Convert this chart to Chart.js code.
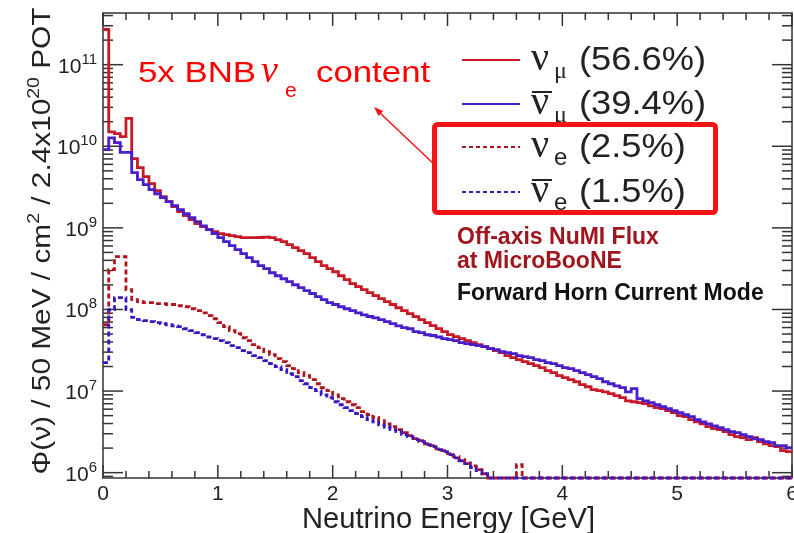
<!DOCTYPE html>
<html lang="en">
<head>
<meta charset="UTF-8">
<title>Off-axis NuMI Flux at MicroBooNE</title>
<script src="https://cdn.jsdelivr.net/npm/chart.js@4.4.0/dist/chart.umd.min.js"></script>
<style>
  body { margin: 0; background: #fff; }
  canvas { display: block; background: #fff; }
</style>
</head>
<body>
<canvas id="flux" width="794" height="533"></canvas>
<script>
// 50 MeV bins from 0 to 6 GeV (120 bins), flux per bin
const binWidth = 0.05;

const numuFlux = [
  2.7e11, 1.5e10, 1.43e10, 1.31e10, 2.2e10, 7.05e9, 5.47e9, 4.24e9, 3.48e9, 2.86e9,
  2.42e9, 2.10e9, 1.82e9, 1.58e9, 1.41e9, 1.26e9, 1.125e9, 1.035e9, 9.51e8, 8.99e8,
  8.49e8, 8.25e8, 8.03e8, 7.80e8, 7.59e8, 7.59e8, 7.60e8, 7.62e8, 7.70e8, 7.60e8,
  7.17e8, 6.77e8, 6.22e8, 5.72e8, 5.26e8, 4.84e8, 4.32e8, 3.86e8, 3.45e8, 3.16e8,
  2.90e8, 2.59e8, 2.32e8, 2.07e8, 1.90e8, 1.75e8, 1.61e8, 1.48e8, 1.36e8, 1.25e8,
  1.15e8, 1.05e8, 9.67e7, 8.90e7, 8.17e7, 7.50e7, 6.89e7, 6.33e7, 5.82e7, 5.35e7,
  4.91e7, 4.64e7, 4.39e7, 4.15e7, 3.92e7, 3.71e7, 3.51e7, 3.31e7, 3.13e7, 2.96e7,
  2.72e7, 2.57e7, 2.43e7, 2.30e7, 2.17e7, 2.05e7, 1.94e7, 1.78e7, 1.68e7, 1.55e7,
  1.46e7, 1.38e7, 1.30e7, 1.20e7, 1.13e7, 1.04e7, 1.01e7, 9.8e6, 9.3e6, 8.8e6,
  8.3e6, 7.6e6, 7.4e6, 7.2e6, 7.0e6, 6.6e6, 6.25e6, 6.1e6, 5.75e6, 5.45e6,
  5.0e6, 4.85e6, 4.46e6, 4.2e6, 3.97e6, 3.67e6, 3.47e6, 3.37e6, 3.18e6, 2.92e6,
  2.76e6, 2.68e6, 2.54e6, 2.68e6, 2.40e6, 2.26e6, 2.14e6, 2.08e6, 1.86e6, 1.81e6
];

const numubarFlux = [
  9.1e9, 1.27e10, 1.11e10, 8.4e9, 8.4e9, 4.75e9, 3.90e9, 3.39e9, 2.94e9, 2.62e9,
  2.35e9, 2.10e9, 1.87e9, 1.67e9, 1.49e9, 1.33e9, 1.19e9, 1.06e9, 9.5e8, 8.5e8,
  7.6e8, 6.8e8, 6.05e8, 5.4e8, 4.84e8, 4.32e8, 3.86e8, 3.45e8, 3.16e8, 2.82e8,
  2.59e8, 2.38e8, 2.19e8, 2.01e8, 1.85e8, 1.70e8, 1.57e8, 1.44e8, 1.32e8, 1.21e8,
  1.15e8, 1.08e8, 1.02e8, 9.7e7, 9.1e7, 8.6e7, 8.2e7, 7.9e7, 7.5e7, 7.1e7,
  6.7e7, 6.3e7, 6.0e7, 5.8e7, 5.35e7, 5.2e7, 4.9e7, 4.8e7, 4.6e7, 4.4e7,
  4.27e7, 4.15e7, 3.92e7, 3.81e7, 3.71e7, 3.6e7, 3.5e7, 3.31e7, 3.22e7, 3.04e7,
  2.96e7, 2.88e7, 2.72e7, 2.64e7, 2.57e7, 2.43e7, 2.36e7, 2.23e7, 2.17e7, 2.05e7,
  1.94e7, 1.88e7, 1.78e7, 1.68e7, 1.59e7, 1.50e7, 1.42e7, 1.30e7, 1.23e7, 1.16e7,
  1.10e7, 9.8e6, 1.07e7, 8.1e6, 7.6e6, 7.2e6, 6.8e6, 6.45e6, 6.1e6, 5.75e6,
  5.45e6, 5.15e6, 4.85e6, 4.46e6, 4.2e6, 3.97e6, 3.75e6, 3.56e6, 3.37e6, 3.18e6,
  3.1e6, 2.92e6, 2.76e6, 2.61e6, 2.54e6, 2.40e6, 2.33e6, 2.14e6, 2.14e6, 2.02e6
];

// empty bins are 0 (drawn on the bottom edge like ROOT does)
const nueFlux = [
  6.5e7, 3.07e8, 4.44e8, 4.44e8, 1.75e8, 1.32e8, 1.25e8, 1.21e8, 1.21e8, 1.18e8,
  1.18e8, 1.15e8, 1.15e8, 1.11e8, 1.08e8, 1.02e8, 9.7e7, 9.1e7, 8.4e7, 7.7e7,
  6.9e7, 6.15e7, 5.5e7, 5.05e7, 4.5e7, 4.15e7, 3.71e7, 3.4e7, 3.04e7, 2.8e7,
  2.5e7, 2.3e7, 2.05e7, 1.88e7, 1.68e7, 1.55e7, 1.38e7, 1.23e7, 1.10e7, 1.01e7,
  9.0e6, 8.1e6, 7.4e6, 6.8e6, 6.25e6, 5.6e6, 5.15e6, 4.75e6, 4.33e6, 3.97e6,
  3.67e6, 3.37e6, 3.1e6, 2.85e6, 2.61e6, 2.47e6, 2.26e6, 2.14e6, 1.96e6, 1.86e6,
  1.71e6, 1.57e6, 1.44e6, 1.32e6, 1.21e6, 1.09e6, 9.7e5, 0, 0, 0,
  0, 0, 1.25e6, 0, 0, 0, 0, 0, 0, 0,
  0, 0, 0, 0, 0, 0, 0, 0, 0, 0,
  0, 0, 0, 0, 0, 0, 0, 0, 0, 0,
  0, 0, 0, 0, 0, 0, 0, 0, 0, 0,
  0, 0, 0, 0, 0, 0, 0, 0, 0, 0
];

const nuebarFlux = [
  2.23e7, 9.95e7, 1.40e8, 1.40e8, 9.95e7, 8.0e7, 7.5e7, 7.3e7, 7.1e7, 6.9e7,
  6.7e7, 6.5e7, 6.3e7, 6.15e7, 5.8e7, 5.5e7, 5.2e7, 4.9e7, 4.6e7, 4.4e7,
  4.15e7, 3.92e7, 3.6e7, 3.4e7, 3.13e7, 2.96e7, 2.72e7, 2.57e7, 2.36e7, 2.17e7,
  1.99e7, 1.83e7, 1.63e7, 1.50e7, 1.34e7, 1.23e7, 1.10e7, 1.01e7, 9.0e6, 8.3e6,
  7.4e6, 6.8e6, 6.25e6, 5.75e6, 5.3e6, 4.85e6, 4.46e6, 4.2e6, 3.85e6, 3.6e6,
  3.37e6, 3.18e6, 2.92e6, 2.76e6, 2.54e6, 2.40e6, 2.2e6, 2.08e6, 1.91e6, 1.81e6,
  1.66e6, 1.52e6, 1.40e6, 1.29e6, 1.15e6, 1.06e6, 9.7e5, 0, 0, 0,
  0, 0, 0, 0, 0, 0, 0, 0, 0, 0,
  0, 0, 0, 0, 0, 0, 0, 0, 0, 0,
  0, 0, 0, 0, 0, 0, 0, 0, 0, 0,
  0, 0, 0, 0, 0, 0, 0, 0, 0, 0,
  0, 0, 0, 0, 0, 0, 0, 0, 0, 0
];

const xTicks = [0, 1, 2, 3, 4, 5, 6];
const yDecades = [6, 7, 8, 9, 10, 11];
const legendSub = ['μ', 'μ', 'e', 'e'];
const legendBar = [false, true, false, true];
const legendShare = ['(56.6%)', '(39.4%)', '(2.5%)', '(1.5%)'];

const yMin = 8.6e5;
const yMax = 4.3e11;

const SANS = '"Liberation Sans", Arial, sans-serif';
const SERIF = '"Liberation Serif", "DejaVu Serif", serif';
const colors = ['#c81a26', '#4a1ec8', '#b0141e', '#3a16c0'];

// histogram -> step points: each bin drawn flat from its low edge to the next
function histPoints(vals) {
  const pts = vals.map((v, i) => ({ x: i * binWidth, y: v > 0 ? v : yMin }));
  pts.push({ x: vals.length * binWidth, y: pts[pts.length - 1].y });
  return pts;
}

function txt(ctx, str, x, y, font, color, sx = 1, align = 'left') {
  ctx.save();
  ctx.font = font;
  ctx.fillStyle = color;
  ctx.textAlign = align;
  ctx.textBaseline = 'alphabetic';
  ctx.translate(x, y);
  ctx.scale(sx, 1);
  ctx.fillText(str, 0, 0);
  ctx.restore();
}

function seg(ctx, x1, y1, x2, y2) {
  ctx.beginPath();
  ctx.moveTo(x1, y1);
  ctx.lineTo(x2, y2);
  ctx.stroke();
}

// ROOT style frame: ticks inside on all four sides (under the histograms)
const rootFrame = {
  id: 'rootFrame',
  beforeDatasetsDraw(chart) {
    const { ctx, chartArea: a, scales: { x, y } } = chart;
    ctx.save();
    ctx.strokeStyle = '#333';
    ctx.lineWidth = 1.5;
    ctx.strokeRect(a.left, a.top, a.right - a.left, a.bottom - a.top);

    for (let i = 0; i <= 30; i++) {
      const px = x.getPixelForValue(i * 0.2);
      const len = i % 5 === 0 ? 13 : 7;
      seg(ctx, px, a.bottom, px, a.bottom - len);
      seg(ctx, px, a.top, px, a.top + len);
    }
    for (let n = 5; n <= 11; n++) {
      for (let m = 1; m <= 9; m++) {
        const v = m * Math.pow(10, n);
        if (v < yMin || v > yMax) continue;
        const py = y.getPixelForValue(v);
        const len = m === 1 ? 20 : 10;
        seg(ctx, a.left, py, a.left + len, py);
        seg(ctx, a.right, py, a.right - len, py);
      }
    }
    ctx.restore();
  },
  // labels, titles, legend and notes
  afterDraw(chart) {
    const { ctx, chartArea: a, scales: { x, y } } = chart;
    ctx.save();
    xTicks.forEach(t => {
      txt(ctx, String(t), x.getPixelForValue(t), a.bottom + 22, `21px ${SANS}`, '#222', 1, 'center');
    });
    yDecades.forEach(n => {
      const py = y.getPixelForValue(Math.pow(10, n));
      ctx.font = `21px ${SANS}`;
      const wb = ctx.measureText('10').width;
      ctx.font = `15px ${SANS}`;
      const we = ctx.measureText(String(n)).width;
      const right = a.left - 6;
      txt(ctx, '10', right - we - wb, py + 8, `21px ${SANS}`, '#222');
      txt(ctx, String(n), right - we, py - 1, `15px ${SANS}`, '#222');
    });

    ctx.font = `29px ${SANS}`;
    const xt = 'Neutrino Energy [GeV]';
    txt(ctx, xt, 302, 528, `29px ${SANS}`, '#222', 293 / ctx.measureText(xt).width);

    const parts = [['Φ(ν) / 50 MeV / cm', 0], ['2', 1], [' / 2.4x10', 0], ['20', 1], [' POT', 0]];
    const big = `26px ${SANS}`, small = `17px ${SANS}`;
    let total = 0;
    const widths = parts.map(([s, sup]) => {
      ctx.font = sup ? small : big;
      const w = ctx.measureText(s).width;
      total += w;
      return w;
    });
    const stretch = 467 / total;
    ctx.save();
    ctx.translate(50, 241);
    ctx.rotate(-Math.PI / 2);
    ctx.scale(stretch, 1);
    ctx.fillStyle = '#222';
    let xo = -total / 2;
    parts.forEach(([s, sup], i) => {
      ctx.font = sup ? small : big;
      ctx.fillText(s, xo, sup ? -11 : 0);
      xo += widths[i];
    });
    ctx.restore();

    // legend
    const rowY = [60, 104, 147, 192];
    for (let i = 0; i < 4; i++) {
      ctx.strokeStyle = colors[i];
      ctx.lineWidth = 2;
      ctx.setLineDash(i < 2 ? [] : [4, 3]);
      seg(ctx, 462, rowY[i], 520, rowY[i]);
      ctx.setLineDash([]);
      const base = rowY[i] + 10;
      txt(ctx, 'ν', 531, base, `40px ${SERIF}`, '#222');
      if (legendBar[i]) {
        ctx.strokeStyle = '#222';
        ctx.lineWidth = 2;
        seg(ctx, 532, base - 22, 552, base - 22);
      }
      txt(ctx, legendSub[i], 554, base + 8, legendSub[i] === 'μ' ? `24px ${SERIF}` : `24px ${SANS}`, '#222');
      txt(ctx, legendShare[i], 579, base, `33px ${SANS}`, '#222', 1.1);
    }

    // highlight box, arrow and note
    ctx.strokeStyle = '#f41414';
    ctx.lineWidth = 5;
    ctx.beginPath();
    ctx.roundRect(434.5, 124.5, 281, 88, 3);
    ctx.stroke();

    ctx.fillStyle = '#f41414';
    ctx.lineWidth = 1.5;
    seg(ctx, 436, 166, 380, 113);
    const ang = Math.atan2(113 - 166, 380 - 436);
    ctx.beginPath();
    ctx.moveTo(374, 107);
    ctx.lineTo(374 - 10 * Math.cos(ang - 0.35), 107 - 10 * Math.sin(ang - 0.35));
    ctx.lineTo(374 - 10 * Math.cos(ang + 0.35), 107 - 10 * Math.sin(ang + 0.35));
    ctx.closePath();
    ctx.fill();

    txt(ctx, '5x BNB', 138, 82, `30px ${SANS}`, '#ff0000', 1.16);
    txt(ctx, 'ν', 261, 82, `italic 38px ${SERIF}`, '#ff0000');
    txt(ctx, 'e', 285, 97, `21px ${SANS}`, '#ff0000');
    txt(ctx, 'content', 316, 82, `30px ${SANS}`, '#ff0000', 1.16);

    txt(ctx, 'Off-axis NuMI Flux', 457, 244, `bold 23px ${SANS}`, '#a0161e');
    txt(ctx, 'at MicroBooNE', 457, 268, `bold 23px ${SANS}`, '#a0161e');
    txt(ctx, 'Forward Horn Current Mode', 457, 300, `bold 23px ${SANS}`, '#111');
    ctx.restore();
  }
};

const seriesData = [nuebarFlux, nueFlux, numubarFlux, numuFlux];
const seriesColor = [colors[3], colors[2], colors[1], colors[0]];

new Chart(document.getElementById('flux').getContext('2d'), {
  type: 'line',
  data: {
    datasets: seriesData.map((vals, i) => ({
      data: histPoints(vals),
      borderColor: seriesColor[i],
      borderWidth: 2.8,
      borderDash: i < 2 ? [5, 3] : [],
      stepped: 'before',
      pointRadius: 0,
      fill: false,
      clip: false
    }))
  },
  options: {
    responsive: false,
    animation: false,
    devicePixelRatio: 1,
    layout: { padding: { left: 103, right: 2, top: 13, bottom: 55 } },
    scales: {
      x: { type: 'linear', min: 0, max: 6, display: false },
      y: { type: 'logarithmic', min: yMin, max: yMax, display: false }
    },
    plugins: { legend: { display: false }, tooltip: { enabled: false } }
  },
  plugins: [rootFrame]
});
</script>
</body>
</html>
